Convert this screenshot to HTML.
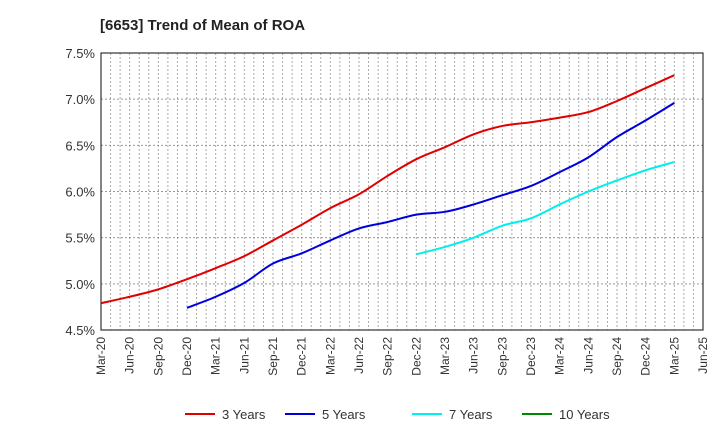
<!DOCTYPE html>
<html><head><meta charset="utf-8"><style>
body{margin:0;background:#fff;font-family:"Liberation Sans",sans-serif}
</style></head><body>
<svg id="c" width="720" height="440" xmlns="http://www.w3.org/2000/svg" font-family="Liberation Sans, sans-serif">
<text x="100" y="30" font-size="15" font-weight="bold" fill="#222">[6653]  Trend of Mean of ROA</text>
<g id="grid"></g><g id="axes"></g><g id="series"></g><g id="legend"></g>
</svg>
<script>
const xLabels=["Mar-20","Jun-20","Sep-20","Dec-20","Mar-21","Jun-21","Sep-21","Dec-21","Mar-22","Jun-22","Sep-22","Dec-22","Mar-23","Jun-23","Sep-23","Dec-23","Mar-24","Jun-24","Sep-24","Dec-24","Mar-25","Jun-25"];
const yTicks=[4.5,5.0,5.5,6.0,6.5,7.0,7.5];
const s3=[4.79,4.86,4.94,5.05,5.17,5.30,5.47,5.64,5.82,5.97,6.17,6.35,6.48,6.62,6.71,6.75,6.80,6.86,6.98,7.12,7.26];
const s3Start=0;
const s5=[4.74,4.86,5.01,5.22,5.33,5.47,5.60,5.67,5.75,5.78,5.86,5.96,6.06,6.21,6.37,6.59,6.77,6.96];
const s5Start=3;
const s7=[5.32,5.40,5.50,5.63,5.71,5.86,6.00,6.12,6.23,6.32];
const s7Start=11;
const s10=[];
const s10Start=0;
const L=101,R=703,T=53,B=330,NS="http://www.w3.org/2000/svg";
const X=q=>L+(R-L)*q/21;
const Y=v=>B-(B-T)*(v-4.5)/3;
function mk(t,a,p){const e=document.createElementNS(NS,t);for(const k in a)e.setAttribute(k,a[k]);p.appendChild(e);return e;}
const g=document.getElementById('grid'),ax=document.getElementById('axes'),se=document.getElementById('series'),lg=document.getElementById('legend');
for(let m=1;m<63;m++){const l=mk('line',{x1:L+(R-L)*m/63,x2:L+(R-L)*m/63,y1:T,y2:B,stroke:'#aaa','stroke-dasharray':'2,2','stroke-width':1},g);

}
yTicks.forEach(v=>{const l=mk('line',{x1:L,x2:R,y1:Y(v),y2:Y(v),stroke:'#999','stroke-dasharray':'2,2','stroke-width':1},g);


const t=mk('text',{x:L-6,y:Y(v)+5,'text-anchor':'end','font-size':13,fill:'#333'},ax);t.textContent=v.toFixed(1)+'%';

});
const fr=mk('rect',{x:L,y:T,width:R-L,height:B-T,fill:'none',stroke:'#333','stroke-width':1.2},ax);


xLabels.forEach((s,i)=>{const t=mk('text',{transform:`translate(${X(i)+4},337) rotate(-90)`,'text-anchor':'end','font-size':12,fill:'#333'},ax);t.textContent=s;

});
function path(arr,start){const p=arr.map((v,i)=>[X(start+i),Y(v)]);if(!p.length)return'';let d=`M${p[0][0]},${p[0][1]}`;
for(let i=0;i<p.length-1;i++){const p0=p[i-1]||p[i],p1=p[i],p2=p[i+1],p3=p[i+2]||p2;
d+=` C${p1[0]+(p2[0]-p0[0])/6},${p1[1]+(p2[1]-p0[1])/6} ${p2[0]-(p3[0]-p1[0])/6},${p2[1]-(p3[1]-p1[1])/6} ${p2[0]},${p2[1]}`;}return d;}
const ser=[[s3,s3Start,'#e00000','3 Years',185],[s5,s5Start,'#0000dd','5 Years',285],[s7,s7Start,'#00eeee','7 Years',412],[s10,s10Start,'#008800','10 Years',522]];
ser.forEach(([a,st,c,n,lx])=>{if(a.length){const p=mk('path',{d:path(a,st),fill:'none',stroke:c,'stroke-width':2},se);

}
const ll=mk('line',{x1:lx,x2:lx+30,y1:414,y2:414,stroke:c,'stroke-width':2},lg);


const t=mk('text',{x:lx+37,y:419,'font-size':13,fill:'#333'},lg);t.textContent=n;

});
</script>
</body></html>
